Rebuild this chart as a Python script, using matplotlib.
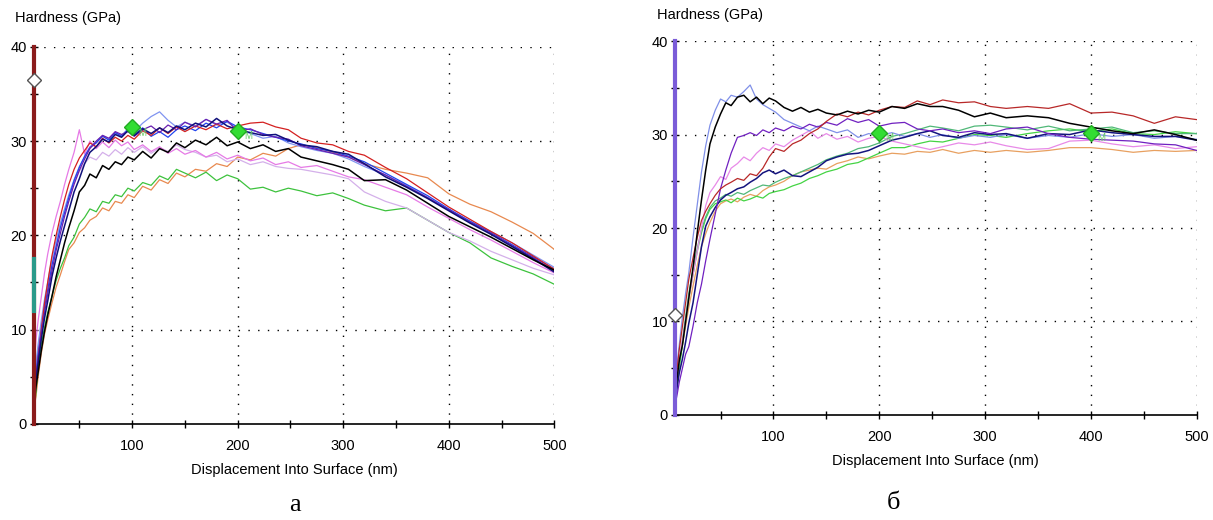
import matplotlib.pyplot as plt

plt.rcParams["font.family"] = ["Liberation Sans", "DejaVu Sans"]

# shared displacement grid (nm)
depth = [7, 9, 11, 14, 17, 20, 24, 28, 32, 36, 40, 45, 50, 55, 60, 66, 72, 78, 84, 90,
         96, 102, 110, 118, 126, 134, 142, 150, 160, 170, 180, 190, 200, 212, 224, 236,
         248, 260, 275, 290, 305, 320, 340, 360, 380, 400, 420, 440, 460, 480, 500]

# ---- panel a: hardness (GPa) ----
a_orange = [1.5, 3, 5, 7.5, 9.5, 11, 12.8, 14.5, 15.8, 17.2, 18.5, 19.2, 20.3, 20.8, 21.6, 22.0,
            22.9, 22.6, 23.6, 23.4, 24.3, 24.0, 25.2, 24.8, 25.9, 25.5, 26.6, 26.2, 27.0, 26.8,
            27.6, 27.3, 28.3, 28.0, 28.7, 28.4, 29.2, 29.6, 29.3, 28.8, 28.3, 27.6, 27.0, 26.6,
            26.1, 24.4, 23.3, 22.5, 21.4, 20.2, 18.5]
a_green = [1.0, 3.5, 6, 8.5, 10.2, 11.8, 13.5, 15.2, 16.5, 17.6, 18.9, 19.8, 21.2, 21.9, 22.8,
           22.5, 23.6, 23.4, 24.3, 24.1, 25.0, 24.7, 25.6, 25.3, 26.3, 25.9, 27.0, 26.6, 26.1,
           26.7, 25.8, 26.4, 26.0, 24.9, 25.1, 24.6, 25.0, 24.7, 24.2, 24.5, 23.9, 23.2, 22.6,
           22.9, 21.6, 20.3, 19.2, 17.6, 16.7, 15.9, 14.8]
a_black = [2.0, 4.0, 5.5, 7.8, 9.8, 11.5, 13.5, 15.6, 17.4, 19.2, 20.8, 22.6, 24.6, 25.3, 26.5,
           26.1, 27.4, 27.0, 27.8, 27.5, 28.3, 28.0, 28.9, 28.2, 29.2, 28.8, 29.8, 29.3, 30.1,
           29.6, 30.4, 29.5, 29.9, 29.2, 29.6, 28.9, 29.2, 28.3, 27.9, 27.5, 27.0, 25.8, 25.9,
           24.8, 23.4, 22.0, 20.9, 19.8, 18.6, 17.4, 16.3]
a_navy = [2.5, 4.8, 6.5, 9.0, 11.2, 13.0, 15.6, 17.6, 19.4, 21.0, 22.6, 24.6, 26.0, 27.6, 28.8,
          29.4, 30.2, 29.9, 30.7, 30.4, 31.1, 30.6, 31.3, 30.8, 31.4, 30.9, 31.6, 31.2, 31.9,
          31.5, 32.4, 31.6, 31.2, 30.9, 30.6, 30.7, 30.1, 29.6, 29.4, 28.9, 28.6, 27.6, 26.2,
          25.1, 23.9, 22.6, 21.3, 20.1, 18.8, 17.5, 16.1]
a_blue = [3.0, 5.5, 7.5, 10.0, 12.3, 14.2, 16.8, 18.8, 20.8, 22.4, 24.0, 25.8, 27.2, 28.4, 29.3,
          29.8, 30.5, 30.1, 30.9, 30.5, 31.2, 30.7, 31.4, 30.5, 31.0, 30.4, 31.2, 31.6, 31.1,
          31.9, 31.4, 32.1, 31.5, 31.2, 30.8, 30.4, 30.0, 29.7, 29.2, 28.9, 28.4, 27.8, 26.6,
          25.4, 24.2, 22.8, 21.5, 20.3, 19.0, 17.7, 16.4]
a_cornflower = [4.0, 6.5, 8.5, 11.0, 13.2, 15.0, 17.5, 19.5, 21.3, 22.8, 24.3, 25.9, 27.3, 28.3,
                29.4, 29.9, 30.6, 30.2, 30.9, 30.6, 31.3, 31.0, 31.9, 32.6, 33.1, 32.2, 31.5,
                32.0, 31.6, 32.3, 31.7, 32.0, 31.3, 30.8, 30.3, 30.5, 29.8, 29.4, 29.0, 28.7,
                28.1, 27.3, 26.4, 25.3, 24.0, 22.7, 21.5, 20.4, 19.2, 17.9, 16.6]
a_red = [2.0, 4.5, 7.0, 10.0, 12.8, 15.0, 17.8, 20.0, 22.0, 23.8, 25.4, 27.0, 28.2, 29.0, 29.8,
         29.4, 30.3, 29.8, 30.4, 30.0, 30.6, 30.2, 31.1, 30.6, 31.4, 30.8, 31.5, 31.0, 31.6,
         31.2, 31.8, 31.3, 31.6, 31.9, 32.0, 31.5, 31.2, 30.3, 29.8, 29.6, 28.9, 28.5, 27.2,
         26.0, 24.5, 23.0, 21.7, 20.4, 19.2, 17.8, 16.4]
a_orchid = [6.0, 9.0, 11.0, 13.5, 16.0, 18.0, 20.2, 22.0, 23.6, 25.4, 27.0, 28.8, 31.2, 28.6,
            30.0, 29.2, 29.9, 29.3, 30.1, 29.5, 29.9, 29.1, 29.6, 28.9, 29.4, 28.7, 29.2, 28.6,
            29.0, 28.3, 28.8, 28.1, 28.5, 27.9, 28.2, 27.5, 27.8, 27.2, 27.4, 26.8, 26.2, 25.9,
            25.1, 24.3, 23.0, 21.8, 20.6, 19.5, 18.3, 17.1, 16.0]
a_lavender = [3.5, 6.0, 8.0, 10.5, 12.8, 14.6, 17.0, 19.0, 20.9, 22.5, 24.0, 25.6, 26.8, 27.6,
              28.3, 28.0, 28.8, 28.4, 29.1, 28.6, 29.3, 28.8, 29.4, 28.7, 29.3, 28.9, 29.6,
              29.1, 28.8, 28.3, 28.5, 27.8, 28.1, 27.5, 27.8, 27.3, 27.1, 27.0, 26.7, 26.4,
              26.0, 24.6, 23.6, 22.9, 21.6, 20.3, 19.4, 18.3, 17.4, 16.5, 15.8]
a_purple = [3.0, 5.0, 7.0, 9.6, 11.8, 13.8, 16.2, 18.4, 20.2, 22.0, 23.6, 25.4, 26.9, 28.1, 29.2,
            30.0, 30.6, 30.3, 31.0, 30.7, 31.0, 30.5, 31.2, 31.6, 30.9, 31.7, 31.2, 32.0, 31.5,
            32.3, 31.8, 32.2, 31.0, 31.3, 30.7, 30.4, 30.2, 29.5, 29.1, 28.7, 28.3, 27.5, 26.4,
            25.2, 24.0, 22.7, 21.4, 20.2, 18.9, 17.6, 16.2]

# ---- panel b: hardness (GPa) ----
b_cornflower = [3.0, 5.5, 7.5, 10.5, 13.0, 15.2, 19.0, 22.5, 26.0, 28.8, 31.0, 32.6, 33.8, 33.5,
                34.2, 34.0, 34.6, 35.3, 33.8, 33.2, 32.8, 32.4, 31.6, 31.2, 30.8, 30.4, 30.9,
                30.6, 30.2, 30.5, 29.7, 30.1, 29.9, 30.2, 29.8, 30.1, 29.7, 30.0, 29.6, 29.9,
                29.7, 30.0, 29.6, 29.9, 29.7, 30.1, 29.8, 30.0, 29.6, 29.8, 29.5]
b_black = [2.0, 4.0, 5.8, 7.5, 10.0, 12.5, 15.8, 19.5, 23.0, 26.2, 29.0, 30.8, 32.2, 33.4, 33.1,
           34.0, 34.2, 33.5, 34.0, 33.3, 33.9, 33.6, 32.9, 32.5, 32.9, 32.4, 32.7, 32.3, 32.1,
           32.5, 32.2, 32.6, 32.4, 33.0, 32.8, 33.3, 33.0, 33.0, 32.6, 31.9, 32.3, 31.8, 32.0,
           31.8, 31.2, 30.8, 30.4, 30.1, 30.5, 30.0, 29.4]
b_red = [2.5, 5.0, 7.0, 9.5, 12.0, 14.5, 16.8, 19.0, 20.8, 21.8, 22.6, 23.5, 24.2, 24.6, 24.9,
         25.3, 25.1, 25.8, 25.6, 26.4, 27.6, 28.5, 28.2, 29.0, 29.4, 30.1, 30.6, 31.4, 32.2,
         31.9, 32.4, 32.1, 32.6, 33.0, 32.9, 33.6, 33.2, 33.7, 33.4, 33.5, 33.0, 32.8, 33.0,
         32.8, 33.3, 32.3, 32.4, 32.0, 31.2, 31.9, 31.6]
b_purple = [1.0, 2.2, 3.5, 5.0, 6.5, 7.3, 9.5, 12.0, 14.0, 16.5, 18.8, 21.5, 24.2, 26.2, 28.0,
            29.7, 29.9, 30.2, 29.9, 30.5, 30.2, 30.7, 30.4, 30.9, 30.6, 31.1, 30.8, 31.3, 31.0,
            31.7, 31.3, 31.6, 30.9, 31.2, 31.3, 30.6, 30.4, 30.6, 30.2, 30.4, 30.1, 30.6, 30.8,
            30.1, 29.7, 29.5, 29.4, 29.3, 29.0, 28.9, 28.3]
b_orchid = [2.0, 4.0, 6.0, 8.0, 10.0, 12.5, 15.0, 17.5, 20.0, 22.4, 23.8, 24.6, 25.5, 25.2, 26.4,
            26.9, 27.6, 27.2, 28.0, 28.6, 28.3, 29.0, 28.7, 29.4, 29.9, 30.4, 29.6, 30.1, 29.5,
            29.8, 29.2, 29.6, 29.8, 29.3, 29.0, 28.7, 28.4, 28.7, 29.1, 28.9, 29.2, 28.8, 28.4,
            28.5, 29.3, 29.4, 29.0, 28.7, 28.9, 28.5, 28.7]
b_navy = [1.5, 3.0, 4.5, 6.0, 7.8, 9.8, 12.0, 15.0, 18.0, 20.2, 21.2, 22.2, 23.0, 23.5, 23.8,
          24.2, 24.4, 24.9, 25.3, 25.9, 26.2, 25.8, 26.2, 25.6, 25.5, 26.0, 26.5, 27.2, 27.6,
          27.9, 28.0, 28.3, 28.8, 29.4, 29.7, 30.1, 30.4, 29.9, 29.7, 30.2, 30.0, 30.1, 29.6,
          30.1, 30.0, 30.5, 30.2, 30.0, 29.8, 29.8, 29.4]
b_orange = [1.5, 3.5, 5.5, 7.5, 9.5, 11.5, 13.8, 16.0, 18.0, 19.4, 20.6, 21.8, 22.6, 22.9, 23.1,
            22.8, 23.3, 23.6, 23.4, 24.0, 24.4, 24.6, 25.0, 25.6, 26.0, 26.2, 26.4, 26.3, 26.9,
            27.2, 27.6, 27.4, 27.7, 28.0, 27.9, 28.2, 28.1, 28.4, 28.0, 28.3, 28.1, 28.3, 28.1,
            28.3, 28.6, 28.6, 28.4, 28.1, 28.3, 28.2, 28.3]
b_green = [1.0, 3.0, 5.0, 7.5, 10.0, 12.5, 15.0, 17.5, 19.5, 21.0, 22.0, 22.6, 22.8, 23.0, 22.7,
           23.2, 22.9, 23.1, 23.4, 23.2, 23.7, 23.9, 24.1, 24.5, 24.8, 25.3, 25.6, 26.0, 26.3,
           26.8, 27.0, 27.5, 28.0, 28.6, 28.6, 29.0, 29.3, 29.2, 29.6, 30.0, 29.9, 29.7, 30.1,
           30.4, 30.6, 30.3, 30.6, 30.1, 30.0, 30.3, 30.1]
b_seagreen = [1.5, 3.5, 5.5, 8.0, 10.5, 13.0, 15.5, 17.8, 19.8, 21.2, 22.2, 22.9, 23.2, 23.6,
              23.4, 23.8, 23.6, 24.0, 24.3, 24.6, 24.5, 24.9, 25.3, 25.6, 26.0, 26.4, 26.8,
              27.3, 27.7, 28.0, 28.5, 28.7, 29.1, 29.8, 30.1, 30.5, 30.9, 30.7, 30.4, 30.9,
              31.0, 30.8, 30.5, 30.9, 30.4, 30.6, 30.8, 30.2, 30.4, 30.1, 30.1]

a_curves = [(a_orange, "#e8894f"), (a_green, "#3dc23d"), (a_lavender, "#d4b0ea"),
            (a_orchid, "#e67ae6"), (a_cornflower, "#8094f0"), (a_blue, "#2244ee"),
            (a_red, "#d42020"), (a_purple, "#6a1fb0"), (a_navy, "#10107a"), (a_black, "#000000")]
b_curves = [(b_orange, "#e8a060"), (b_green, "#44d444"), (b_seagreen, "#50b878"),
            (b_orchid, "#e88ae8"), (b_cornflower, "#8090e8"), (b_navy, "#14147e"),
            (b_purple, "#7020c0"), (b_red, "#b82828"), (b_black, "#000000")]

# markers
a_diamonds = ([100, 200], [31.5, 31.1])
b_diamonds = ([200, 400], [30.2, 30.2])
a_start = 36.5
b_start = 10.7

fig = plt.figure(figsize=(12.13, 5.2), dpi=100)
ax_a = fig.add_axes([0.028, 0.185, 0.429, 0.725])
ax_b = fig.add_axes([0.5565, 0.202, 0.430, 0.719])


def style_axes(ax, bar_color, start_val, diamonds, curves):
    for vals, col in curves:
        lw = 1.1 if col in ("#000000", "#10107a", "#14147e") else 0.9
        ax.plot(depth, vals, color=col, lw=lw)
    ax.plot(diamonds[0], diamonds[1], "D", color="#33dd33", mec="#22aa22", ms=8, zorder=5)
    for xd, yd in zip(*diamonds):
        ax.text(xd + 6, yd - 0.6, "M", color="#66cc66", fontsize=7, va="center")
    ax.plot([7, 7], [0, 40], color=bar_color, lw=3, clip_on=False, zorder=4)
    ax.plot([7], [start_val], "D", color="white", mec="#555555", ms=7, clip_on=False, zorder=6)

    ax.set_xlim(7, 500)
    ax.set_ylim(0, 40)
    ax.set_xticks([100, 200, 300, 400, 500])
    ax.set_xticks([50, 150, 250, 350, 450], minor=True)
    ax.set_yticks([0, 10, 20, 30, 40])
    ax.set_yticks([5, 15, 25, 35], minor=True)
    ax.tick_params(axis="both", which="both", direction="inout", length=6, width=1,
                   labelsize=10.5, color="black")
    ax.tick_params(axis="x", pad=8)
    ax.tick_params(axis="y", pad=2)
    for s in ("top", "right"):
        ax.spines[s].set_visible(False)
    for s in ("left", "bottom"):
        ax.spines[s].set_linewidth(1.2)
    for v in [100, 200, 300, 400, 500]:
        ax.axvline(v, color="black", lw=1, ls=(0, (1, 6)), zorder=0)
    for v in [10, 20, 30, 40]:
        ax.axhline(v, color="black", lw=1, ls=(0, (1, 6)), zorder=0)
    ax.set_xlabel("Displacement Into Surface (nm)", fontsize=10.5, labelpad=7)


style_axes(ax_a, "#8b1c1c", a_start, a_diamonds, a_curves)
ax_a.plot([7, 7], [12, 17.5], color="#2a9a8a", lw=3, clip_on=False, zorder=4)
style_axes(ax_b, "#7a5cd8", b_start, b_diamonds, b_curves)

fig.text(15 / 1213, 1 - 18 / 520, "Hardness (GPa)", fontsize=10.5, va="center")
fig.text(657 / 1213, 1 - 15 / 520, "Hardness (GPa)", fontsize=10.5, va="center")
fig.text(295 / 1213, 1 - 505 / 520, "а", family="Liberation Serif", fontsize=19,
         ha="center", va="center")
fig.text(893 / 1213, 1 - 503 / 520, "б", family="Liberation Serif", fontsize=19,
         ha="center", va="center")

fig.savefig("out.png", dpi=100)
